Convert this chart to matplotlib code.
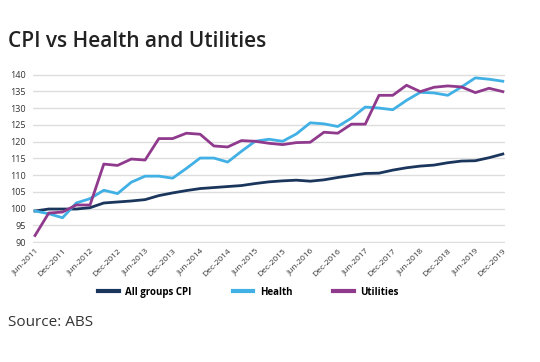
"""CPI versus Health and Utilities price indexes, quarterly."""

import matplotlib.pyplot as plt
import numpy as np

plt.rcParams["font.family"] = ["Open Sans", "DejaVu Sans"]

# Quarterly values, Jun-2011 to Dec-2019
cpi = [
    99.3, 99.9, 99.9, 99.9, 100.3, 101.7, 102.0, 102.3, 102.7, 103.9,
    104.7, 105.4, 106.0, 106.3, 106.6, 106.9, 107.5, 108.0, 108.3, 108.5,
    108.2, 108.6, 109.3, 109.9, 110.5, 110.6, 111.5, 112.2, 112.7, 113.0,
    113.7, 114.2, 114.3, 115.2, 116.3,
]
health = [
    99.3, 98.5, 97.3, 101.7, 103.0, 105.5, 104.5, 107.9, 109.7, 109.7,
    109.1, 112.0, 115.1, 115.1, 113.9, 117.1, 120.1, 120.7, 120.1, 122.3,
    125.6, 125.3, 124.5, 127.0, 130.3, 130.0, 129.5, 132.3, 134.7, 134.5,
    133.8, 136.3, 139.0, 138.6, 138.0,
]
utilities = [
    92.0, 98.7, 99.0, 101.1, 101.1, 113.3, 112.9, 114.8, 114.5, 120.9,
    120.9, 122.5, 122.2, 118.7, 118.4, 120.3, 120.1, 119.5, 119.1, 119.7,
    119.8, 122.8, 122.5, 125.2, 125.2, 133.8, 133.8, 136.8, 134.9, 136.2,
    136.6, 136.3, 134.6, 135.9, 134.9,
]
tick_labels = [
    "Jun-2011", "Dec-2011", "Jun-2012", "Dec-2012", "Jun-2013", "Dec-2013",
    "Jun-2014", "Dec-2014", "Jun-2015", "Dec-2015", "Jun-2016", "Dec-2016",
    "Jun-2017", "Dec-2017", "Jun-2018", "Dec-2018", "Jun-2019", "Dec-2019",
]

x = np.arange(len(cpi))

fig = plt.figure(figsize=(5.4, 3.62), dpi=100)
ax = fig.add_axes([0.061, 0.329, 0.874, 0.467])

ax.plot(x, cpi, color="#1b365d", lw=2.0, label="All groups CPI")
ax.plot(x, health, color="#41b0e4", lw=2.0, label="Health")
ax.plot(x, utilities, color="#8f3a8c", lw=2.0, label="Utilities")

ax.set_ylim(89.8, 140.2)
ax.set_xlim(-0.15, len(cpi) - 0.85)
ax.set_yticks(np.arange(90, 141, 5))
ax.tick_params(axis="y", labelsize=6.5, length=0, pad=5, colors="#333333")
ax.set_xticks(x[::2])
ax.set_xticklabels(tick_labels, rotation=45, ha="right", rotation_mode="anchor")
ax.tick_params(axis="x", labelsize=6, length=0, pad=3, colors="#333333")
ax.grid(axis="y", color="#dddddd", lw=1.0)
ax.set_axisbelow(True)
for spine in ax.spines.values():
    spine.set_visible(False)

legend = fig.legend(
    loc="center",
    bbox_to_anchor=(0.46, 0.193),
    ncol=3,
    frameon=False,
    handlelength=2.1,
    handletextpad=0.7,
    columnspacing=4.2,
    prop={"size": 7, "weight": "bold"},
)
for handle in legend.get_lines():
    handle.set_linewidth(3.0)

fig.text(0.015, 0.885, "CPI vs Health and Utilities", fontsize=15,
         fontweight="semibold", color="#222222", va="center")
fig.text(0.015, 0.11, "Source: ABS", fontsize=11, color="#333333", va="center")

fig.savefig("out.png", dpi=100)
